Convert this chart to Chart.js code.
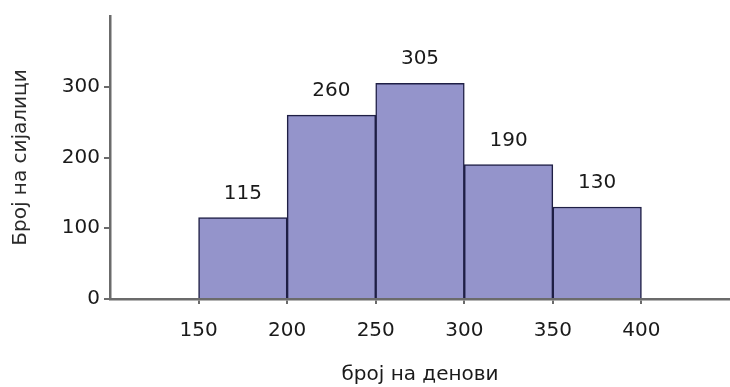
<!DOCTYPE html>
<html>
<head>
<meta charset="utf-8">
<script src="https://cdn.jsdelivr.net/npm/chart.js@4/dist/chart.umd.min.js"></script>
<style>
  html, body { margin: 0; padding: 0; background: #ffffff; }
  #wrap { width: 730px; height: 387px; }
</style>
</head>
<body>
<div id="wrap"><canvas id="hist" width="730" height="387"></canvas></div>
<script>
// Class intervals (start of each 50-day bin) and counts per bin
const binStart = [150, 200, 250, 300, 350];
const binWidth = 50;
const counts = [115, 260, 305, 190, 130];
const xTicks = [150, 200, 250, 300, 350, 400];
const yTicks = [0, 100, 200, 300];

const xTitle = 'број на денови';
const yTitle = 'Број на сијалици';

const FONT = 'DejaVu Sans';
const TEXT = '#1a1a1a';
const AXIS = '#6b6b6b';

// Bars are centred in their bin on a linear axis
const points = binStart.map((s, i) => ({ x: s + binWidth / 2, y: counts[i] }));

// Writes each bin's count above its bar
const valueLabels = {
  id: 'valueLabels',
  afterDatasetsDraw(chart) {
    const { ctx } = chart;
    const meta = chart.getDatasetMeta(0);
    ctx.save();
    ctx.font = '20px "' + FONT + '"';
    ctx.fillStyle = TEXT;
    ctx.textAlign = 'center';
    ctx.textBaseline = 'middle';
    meta.data.forEach((bar, i) => {
      ctx.fillText(String(counts[i]), bar.x, bar.y - 24);
    });
    ctx.restore();
  }
};

new Chart(document.getElementById('hist'), {
  type: 'bar',
  data: {
    datasets: [{
      data: points,
      backgroundColor: '#9494cb',
      borderColor: '#1f1f45',
      borderWidth: 1.5,
      borderSkipped: 'start',
      barPercentage: 1,
      categoryPercentage: 1
    }]
  },
  options: {
    responsive: false,
    devicePixelRatio: 1,
    animation: false,
    layout: { padding: { top: 14, right: 0, left: 0, bottom: 0 } },
    plugins: {
      legend: { display: false },
      tooltip: { enabled: false }
    },
    scales: {
      x: {
        type: 'linear',
        min: 100,
        max: 450,
        offset: false,
        afterBuildTicks(scale) { scale.ticks = xTicks.map(v => ({ value: v })); },
        afterFit(scale) { scale.height = 88; },
        grid: {
          offset: false,
          drawOnChartArea: false,
          drawTicks: true,
          tickLength: 5,
          color: AXIS,
          lineWidth: 2
        },
        border: { display: true, color: AXIS, width: 2.5 },
        ticks: {
          autoSkip: false,
          maxRotation: 0,
          padding: 15,
          color: TEXT,
          font: { family: FONT, size: 20 }
        },
        title: {
          display: true,
          text: xTitle,
          color: TEXT,
          font: { family: FONT, size: 20 },
          padding: { top: 0, bottom: 0 }
        }
      },
      y: {
        type: 'linear',
        min: 0,
        max: 400,
        afterBuildTicks(scale) { scale.ticks = yTicks.map(v => ({ value: v })); },
        afterFit(scale) { scale.width = 110; },
        grid: {
          drawOnChartArea: false,
          drawTicks: true,
          tickLength: 6,
          color: AXIS,
          lineWidth: 2
        },
        border: { display: true, color: AXIS, width: 2.5 },
        ticks: {
          padding: 4,
          color: TEXT,
          font: { family: FONT, size: 20 }
        },
        title: {
          display: true,
          text: yTitle,
          color: '#2a2a2a',
          font: { family: FONT, size: 20 },
          padding: { top: 9, bottom: 0 }
        }
      }
    }
  },
  plugins: [valueLabels]
});
</script>
</body>
</html>
